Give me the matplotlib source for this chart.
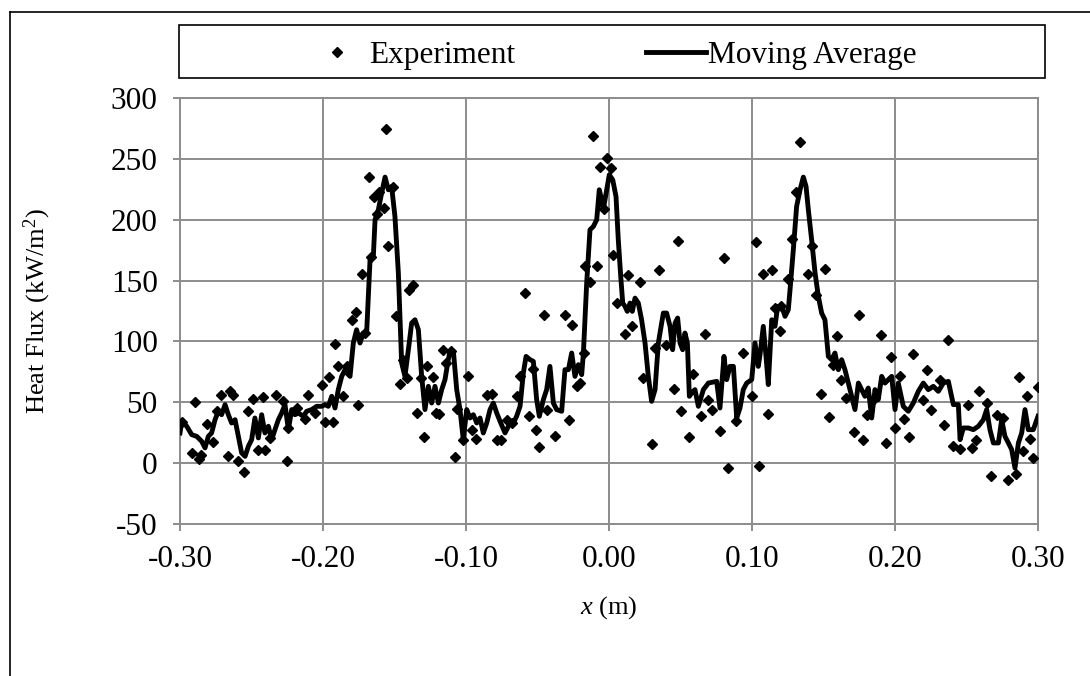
import matplotlib
matplotlib.use("Agg")
import matplotlib.pyplot as plt
from matplotlib.lines import Line2D
from matplotlib.patches import Rectangle

# experiment points (x in m, heat flux in kW/m2)
exp_x = [-0.2988, -0.2918, -0.2895, -0.2865, -0.2850, -0.2813, -0.2770, -0.2744, -0.2716, -0.2662,
         -0.2650, -0.2627, -0.2592, -0.2552, -0.2522, -0.2487, -0.2452, -0.2421, -0.2406, -0.2371,
         -0.2329, -0.2277, -0.2254, -0.2242, -0.2184, -0.2126, -0.2103, -0.2056, -0.2009, -0.1986,
         -0.1956, -0.1932, -0.1916, -0.1893, -0.1862, -0.1834, -0.1799, -0.1771, -0.1753, -0.1729,
         -0.1706, -0.1680, -0.1664, -0.1643, -0.1620, -0.1606, -0.1573, -0.1559, -0.1543, -0.1512,
         -0.1490, -0.1462, -0.1438, -0.1415, -0.1396, -0.1368, -0.1340, -0.1317, -0.1294, -0.1271,
         -0.1233, -0.1212, -0.1187, -0.1164, -0.1140, -0.1108, -0.1077, -0.1065, -0.1019, -0.0988,
         -0.0960, -0.0930, -0.0855, -0.0820, -0.0785, -0.0757, -0.0716, -0.0681, -0.0646, -0.0622,
         -0.0587, -0.0559, -0.0534, -0.0510, -0.0487, -0.0455, -0.0431, -0.0378, -0.0308, -0.0280,
         -0.0256, -0.0226, -0.0203, -0.0175, -0.0168, -0.0133, -0.0114, -0.0086, -0.0063, -0.0035,
         -0.0012, 0.0014, 0.0030, 0.0054, 0.0112, 0.0136, 0.0159, 0.0217, 0.0240, 0.0298,
         0.0322, 0.0350, 0.0399, 0.0457, 0.0485, 0.0506, 0.0562, 0.0590, 0.0641, 0.0671,
         0.0695, 0.0723, 0.0776, 0.0804, 0.0834, 0.0886, 0.0939, 0.0998, 0.1028, 0.1051,
         0.1079, 0.1110, 0.1138, 0.1161, 0.1196, 0.1205, 0.1249, 0.1277, 0.1308, 0.1336,
         0.1394, 0.1417, 0.1448, 0.1483, 0.1510, 0.1538, 0.1564, 0.1597, 0.1620, 0.1657,
         0.1713, 0.1748, 0.1779, 0.1806, 0.1848, 0.1904, 0.1935, 0.1970, 0.2000, 0.2035,
         0.2063, 0.2100, 0.2128, 0.2193, 0.2226, 0.2250, 0.2315, 0.2343, 0.2373, 0.2403,
         0.2455, 0.2513, 0.2536, 0.2566, 0.2590, 0.2641, 0.2669, 0.2711, 0.2758, 0.2792,
         0.2846, 0.2869, 0.2893, 0.2921, 0.2944, 0.2967, 0.2998]
exp_y = [34, 8, 50, 3.5, 7, 32, 17, 43, 56, 6,
         59, 56, 1.5, -7.5, 43, 53, 11, 54, 11, 21,
         56, 51, 1.5, 29, 45, 36, 56, 41, 64.5, 34,
         71, 34, 98, 79.5, 55, 80, 118, 124, 48, 155,
         107, 235, 169, 219, 205, 223, 210, 274.5, 178, 227,
         121, 65, 84.5, 70, 142.5, 146.6, 41, 70, 21.6, 79.6,
         71, 41, 40, 93, 82, 92, 5, 44.6, 19, 72,
         27.6, 20, 56, 57.1, 19.3, 18.8, 35.7, 33.0, 55.4, 71.3,
         139.7, 39.0, 77.3, 27.5, 13.3, 121.9, 44.0, 22.6, 121.4, 35.7,
         113.7, 63.7, 65.8, 90.5, 162.2, 148.5, 268.9, 162.2, 243.2, 208.7,
         250.6, 242.4, 170.7, 131.5, 106.1, 154.8, 112.9, 148.5, 70.0, 16.0,
         94.6, 158.3, 97.3, 60.9, 182.2, 42.6, 21.5, 73.5, 39.0, 106.3,
         51.6, 44.0, 26.2, 168.5, -3.9, 34.4, 90.5, 55.4, 181.6, -2.0,
         155.3, 40.7, 158.9, 127.4, 108.3, 129.3, 151.2, 184.1, 222.4, 263.5,
         155.6, 178.1, 138.4, 57.1, 159.7, 37.9, 80.9, 104.2, 68.6, 53.5,
         25.3, 121.9, 18.8, 39.8, 52.2, 105.5, 16.6, 87.2, 28.9, 71.3,
         36.3, 21.2, 89.7, 52.2, 76.8, 43.4, 68.0, 31.6, 100.9, 13.8,
         11.6, 48.1, 12.5, 19.3, 59.0, 49.4, -10.2, 39.8, 37.1, -14.1,
         -8.6, 70.8, 9.7, 55.4, 19.9, 4.3, 62.6]

# moving average curve
ma_x = [-0.3000, -0.2988, -0.2953, -0.2918, -0.2883, -0.2848, -0.2825, -0.2802, -0.2779, -0.2755,
        -0.2732, -0.2709, -0.2685, -0.2662, -0.2639, -0.2615, -0.2592, -0.2569, -0.2545, -0.2522,
        -0.2499, -0.2476, -0.2452, -0.2429, -0.2406, -0.2382, -0.2359, -0.2336, -0.2312, -0.2289,
        -0.2266, -0.2242, -0.2219, -0.2196, -0.2172, -0.2138, -0.2114, -0.2079, -0.2044, -0.2009,
        -0.1986, -0.1963, -0.1939, -0.1916, -0.1893, -0.1869, -0.1846, -0.1834, -0.1811, -0.1788,
        -0.1765, -0.1741, -0.1718, -0.1695, -0.1671, -0.1648, -0.1636, -0.1613, -0.1590, -0.1566,
        -0.1543, -0.1520, -0.1497, -0.1473, -0.1450, -0.1427, -0.1403, -0.1380, -0.1357, -0.1333,
        -0.1310, -0.1287, -0.1263, -0.1240, -0.1217, -0.1193, -0.1170, -0.1147, -0.1124,
        -0.1112, -0.1088, -0.1065, -0.1042, -0.1019, -0.0995, -0.0972, -0.0949, -0.0925, -0.0902,
        -0.0879, -0.0855, -0.0832, -0.0809, -0.0785, -0.0762, -0.0727, -0.0692, -0.0669, -0.0646,
        -0.0622, -0.0599, -0.0580, -0.0552, -0.0529, -0.0506, -0.0487, -0.0459, -0.0436, -0.0413,
        -0.0389, -0.0366, -0.0331, -0.0308, -0.0284, -0.0261, -0.0238, -0.0214, -0.0191, -0.0179,
        -0.0156, -0.0133, -0.0109, -0.0086, -0.0068, -0.0051, -0.0040, -0.0016, 0.0002, 0.0026,
        0.0049, 0.0065, 0.0082, 0.0096, 0.0112, 0.0128, 0.0147, 0.0163, 0.0182, 0.0205,
        0.0228, 0.0252, 0.0275, 0.0298, 0.0322, 0.0345, 0.0380, 0.0403, 0.0427, 0.0445,
        0.0462, 0.0480, 0.0497, 0.0515, 0.0531, 0.0548, 0.0562, 0.0578, 0.0601, 0.0625,
        0.0660, 0.0695, 0.0753, 0.0776, 0.0804, 0.0823, 0.0846, 0.0870, 0.0893,
        0.0916, 0.0939, 0.0963, 0.0998, 0.1021, 0.1044, 0.1056, 0.1079, 0.1098, 0.1114,
        0.1138, 0.1161, 0.1173, 0.1184, 0.1208, 0.1231, 0.1254, 0.1266, 0.1289, 0.1312,
        0.1336, 0.1359, 0.1378, 0.1394, 0.1417, 0.1441, 0.1464, 0.1487, 0.1510, 0.1534,
        0.1557, 0.1580, 0.1604, 0.1627, 0.1650, 0.1674, 0.1697, 0.1720, 0.1744, 0.1767,
        0.1790, 0.1813, 0.1837, 0.1860, 0.1883, 0.1907, 0.1930, 0.1953, 0.1977, 0.2000,
        0.2023, 0.2058, 0.2093, 0.2128, 0.2163, 0.2198, 0.2233, 0.2268, 0.2303, 0.2338,
        0.2373, 0.2408, 0.2443, 0.2455, 0.2478, 0.2513, 0.2548, 0.2583, 0.2618, 0.2641,
        0.2664, 0.2688, 0.2723, 0.2746, 0.2769, 0.2793, 0.2816, 0.2839, 0.2863, 0.2886,
        0.2909, 0.2932, 0.2967, 0.3000]
ma_y = [24.8, 34.4, 30.3, 23.4, 22.0, 17.9, 12.5, 22.0, 24.8, 35.7,
        42.6, 39.8, 48.1, 39.8, 33.0, 35.7, 22.0, 8.4, 5.6, 13.8,
        19.3, 37.1, 20.7, 39.8, 24.8, 30.3, 19.3, 27.5, 35.7, 41.2,
        48.1, 27.5, 44.0, 39.8, 41.2, 38.5, 42.6, 44.0, 46.7, 46.7,
        48.1, 46.7, 54.9, 45.3, 60.4, 71.3, 76.8, 74.1, 71.3, 98.7,
        109.6, 98.7, 106.9, 106.9, 167.1, 169.8, 200.0, 208.2, 221.9, 235.0,
        224.6, 227.3, 202.7, 156.2, 82.3, 71.3, 93.2, 115.1, 117.8, 109.6,
        71.3, 44.0, 63.1, 49.4, 63.1, 49.4, 60.4, 68.6, 85.0,
        91.8, 91.8, 60.4, 44.0, 19.3, 44.0, 37.1, 39.8, 33.0, 37.1,
        24.8, 33.0, 44.0, 49.4, 41.2, 34.4, 24.8, 33.0, 33.0, 38.5,
        46.7, 74.1, 87.7, 85.0, 83.6, 52.2, 38.5, 52.2, 60.4, 79.5,
        49.4, 44.0, 42.6, 76.8, 76.8, 90.5, 71.3, 80.9, 72.7, 90.5,
        148.0, 191.7, 194.5, 200.0, 224.6, 216.4, 208.2, 224.6, 236.9, 232.8,
        219.1, 183.5, 153.4, 131.5, 128.8, 124.7, 131.5, 124.7, 135.6, 131.5,
        117.8, 98.7, 71.3, 50.8, 60.4, 98.7, 123.3, 123.3, 112.4, 93.2,
        115.1, 119.2, 98.7, 93.2, 106.9, 98.7, 54.9, 57.6, 60.4, 46.7,
        60.4, 65.8, 67.2, 45.3, 87.7, 68.6, 79.5, 79.5, 37.1,
        45.3, 60.4, 65.8, 68.6, 98.7, 79.5, 89.1, 112.4, 87.7, 64.5,
        117.8, 112.4, 123.3, 128.8, 128.8, 120.6, 126.1, 142.5, 175.3, 210.9,
        224.6, 235.0, 227.3, 208.2, 183.5, 156.2, 137.0, 123.3, 117.8, 87.7,
        85.0, 90.5, 76.8, 85.0, 76.8, 65.8, 54.9, 44.0, 65.8, 60.4,
        54.9, 61.7, 37.1, 60.4, 52.2, 71.3, 65.8, 68.6, 71.3, 44.0,
        65.8, 46.7, 42.6, 49.4, 59.0, 65.8, 60.4, 63.1, 59.0, 65.8,
        67.2, 48.1, 48.1, 19.3, 28.9, 28.9, 27.5, 30.3, 35.7, 44.0,
        27.5, 16.6, 16.6, 35.7, 22.0, 16.6, 11.1, -4.0, 16.6, 24.8,
        44.0, 27.5, 27.5, 38.5]

x_ticks = [-0.30, -0.20, -0.10, 0.00, 0.10, 0.20, 0.30]
y_ticks = [-50, 0, 50, 100, 150, 200, 250, 300]

plt.rcParams['font.family'] = ['Liberation Serif', 'DejaVu Serif']
plt.rcParams['axes.unicode_minus'] = False
plt.rcParams['mathtext.fontset'] = 'custom'
plt.rcParams['mathtext.rm'] = 'Liberation Serif'
plt.rcParams['mathtext.it'] = 'Liberation Serif:italic'
fs_tick = 22.5   # tick labels and legend
fs_title = 19    # axis titles
grid_c = '#8c8c8c'

W, H = 1090, 676
fig = plt.figure(figsize=(W / 100, H / 100), dpi=100)
ax = fig.add_axes([180 / W, 1 - 524 / H, (1038 - 180) / W, (524 - 98) / H])

ax.plot(exp_x, exp_y, linestyle='none', marker='D', markersize=5.5, color='black', zorder=3)
ax.plot(ma_x, ma_y, color='black', linewidth=3.5, zorder=4)

ax.set_xlim(-0.30, 0.30)
ax.set_ylim(-50, 300)
ax.set_xticks(x_ticks)
ax.set_yticks(y_ticks)
ax.set_xticklabels([f"{v:.2f}" for v in x_ticks], fontsize=fs_tick)
ax.set_yticklabels([str(v) for v in y_ticks], fontsize=fs_tick)
ax.grid(True, color=grid_c, linewidth=1.4)
ax.set_axisbelow(True)
for s in ax.spines.values():
    s.set_color(grid_c)
    s.set_linewidth(1.4)
ax.tick_params(axis='x', direction='out', length=5, width=1.4, color=grid_c, pad=10)
ax.tick_params(axis='y', direction='out', length=5, width=1.4, color=grid_c, pad=11)

ax.set_xlabel(r"$x$ (m)", fontsize=fs_title)
ax.set_ylabel(r"Heat Flux (kW/m$^2$)", fontsize=fs_title)
ax.xaxis.set_label_coords(0.5, -0.165)
ax.yaxis.set_label_coords(-0.148, 0.5)

# legend box drawn as a plain rectangle, legend itself without frame
fig.patches.append(Rectangle((179 / W, 1 - 78 / H), (1045 - 179) / W, 53 / H,
                             transform=fig.transFigure, fill=False,
                             edgecolor='black', linewidth=1.2))
handles = [Line2D([], [], linestyle='none', marker='D', markersize=5.5, color='black'),
           Line2D([], [], color='black', linewidth=3.5)]
fig.legend(handles, ['Experiment', 'Moving Average'], loc='center',
           bbox_to_anchor=(612 / W, 1 - 55 / H), ncol=2, frameon=False,
           fontsize=fs_tick, handlelength=1.9, handletextpad=0.08, columnspacing=4.2)

# outer chart border (cut off at right and bottom)
fig.add_artist(Line2D([10 / W, 10 / W], [0, 1 - 12 / H], color='black', linewidth=1.2))
fig.add_artist(Line2D([10 / W, 1], [1 - 12 / H, 1 - 12 / H], color='black', linewidth=1.2))

fig.savefig("out.png", dpi=100)
